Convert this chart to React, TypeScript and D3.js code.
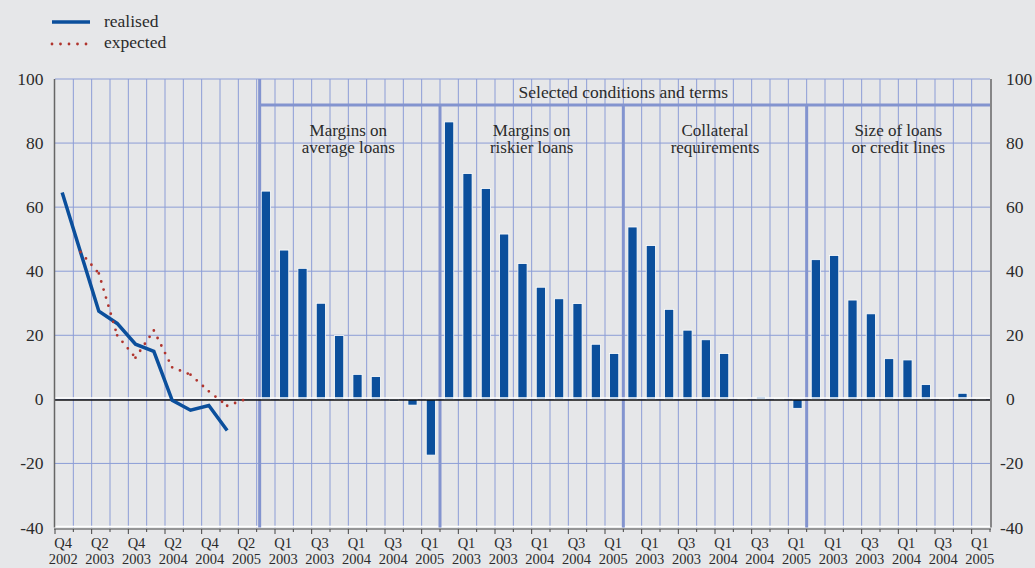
import React, { useEffect, useRef } from 'react';
import * as d3 from 'd3';

// left panel: bank lending survey net percentages, realised vs expected
const lineQuarters = ['Q4 2002', 'Q1 2003', 'Q2 2003', 'Q3 2003', 'Q4 2003', 'Q1 2004', 'Q2 2004', 'Q3 2004', 'Q4 2004', 'Q1 2005', 'Q2 2005'];
const realised = [64.6, 46, 27.5, 23.7, 17.2, 15, -0.3, -3.4, -1.9, -9.7, null];
const expected = [null, 46, 39.3, 20, 13, 21.5, 10, 7.7, 2.5, -2, 0];

// right panels: selected conditions and terms
const barQuarters = ['Q4 2002', 'Q1 2003', 'Q2 2003', 'Q3 2003', 'Q4 2003', 'Q1 2004', 'Q2 2004', 'Q3 2004', 'Q4 2004', 'Q1 2005'];
const marginsAverage = [65, 46.6, 40.9, 30, 19.9, 7.8, 7.1, -0.5, -1.8, -17.4];
const marginsRiskier = [86.6, 70.5, 65.8, 51.6, 42.4, 35, 31.4, 29.9, 17.2, 14.3];
const collateral = [53.8, 48, 28.1, 21.6, 18.6, 14.3, 0.3, 0.8, 0.3, -2.8];
const loanSize = [43.6, 44.9, 31, 26.7, 12.7, 12.3, 4.6, 0.2, 1.9, -0.3];
const panelTitles = [
  ['Margins on', 'average loans'],
  ['Margins on', 'riskier loans'],
  ['Collateral', 'requirements'],
  ['Size of loans', 'or credit lines'],
];
const headerTitle = 'Selected conditions and terms';
const yTicks = [-40, -20, 0, 20, 40, 60, 80, 100];
const legendLabels = ['realised', 'expected'];

const App = () => {
  const svgRef = useRef<SVGSVGElement>(null);

  useEffect(() => {
    const svg = d3.select(svgRef.current);
    svg.selectAll('*').remove();

    const width = 1035;
    const height = 568;
    const left = 55;
    const right = 990;
    const top = 79;
    const bottom = 527.5;
    const headerY = 105;
    const font = '"Liberation Serif", "Times New Roman", serif';
    const blue = '#0b4f9c';
    const red = '#b0342d';
    const grid = '#8c9dd6';
    const sepColor = '#8394cf';
    const ink = '#2b2b2b';

    const barSeries = [marginsAverage, marginsRiskier, collateral, loanSize];
    const slots = [
      ...lineQuarters.map((q) => `line|${q}`),
      ...barSeries.flatMap((_, p) => barQuarters.map((q) => `${p}|${q}`)),
    ];

    const x = d3.scaleBand().domain(slots).range([left, right]).padding(0);
    const bw = x.bandwidth();
    const y = d3.scaleLinear().domain([-40, 100]).range([bottom, top]);

    svg.append('rect').attr('width', width).attr('height', height).attr('fill', '#e6e7e9');

    // grid
    svg
      .append('g')
      .selectAll('line')
      .data(yTicks.filter((d) => d > -40))
      .join('line')
      .attr('x1', left)
      .attr('x2', right)
      .attr('y1', (d) => y(d))
      .attr('y2', (d) => y(d))
      .attr('stroke', grid)
      .attr('stroke-width', 1);

    svg
      .append('g')
      .selectAll('line')
      .data(slots.slice(1))
      .join('line')
      .attr('x1', (d) => x(d))
      .attr('x2', (d) => x(d))
      .attr('y1', top)
      .attr('y2', bottom)
      .attr('stroke', grid)
      .attr('stroke-width', 1);

    // bottom edge of plot
    svg
      .append('line')
      .attr('x1', left)
      .attr('x2', right)
      .attr('y1', bottom - 1)
      .attr('y2', bottom - 1)
      .attr('stroke', '#ffffff')
      .attr('stroke-width', 1.5);

    // panel separators + header rule
    const firstSep = x(`0|${barQuarters[0]}`)!;
    svg
      .append('g')
      .selectAll('line')
      .data(barSeries.map((_, p) => p))
      .join('line')
      .attr('x1', (p) => x(`${p}|${barQuarters[0]}`)! + (p === 0 ? 3 : 0))
      .attr('x2', (p) => x(`${p}|${barQuarters[0]}`)! + (p === 0 ? 3 : 0))
      .attr('y1', (p) => (p === 0 ? top : headerY))
      .attr('y2', bottom)
      .attr('stroke', sepColor)
      .attr('stroke-width', 3);

    svg
      .append('line')
      .attr('x1', firstSep + 3)
      .attr('x2', right)
      .attr('y1', headerY)
      .attr('y2', headerY)
      .attr('stroke', sepColor)
      .attr('stroke-width', 3);

    svg
      .append('text')
      .attr('x', (firstSep + right) / 2)
      .attr('y', 98)
      .attr('text-anchor', 'middle')
      .attr('font-family', font)
      .attr('font-size', 17.5)
      .attr('fill', ink)
      .text(headerTitle);

    // bars
    barSeries.forEach((series, p) => {
      svg
        .append('g')
        .selectAll('rect')
        .data(series)
        .join('rect')
        .attr('x', (d, i) => x(`${p}|${barQuarters[i]}`)! + bw * 0.25)
        .attr('width', bw * 0.5)
        .attr('y', (d) => y(Math.max(0, d)))
        .attr('height', (d) => Math.abs(y(d) - y(0)))
        .attr('fill', blue)
        .attr('stroke', '#ffffff')
        .attr('stroke-width', 0.8);

      const cx = x(`${p}|${barQuarters[0]}`)! + (bw * barQuarters.length) / 2;
      const t = svg
        .append('text')
        .attr('text-anchor', 'middle')
        .attr('font-family', font)
        .attr('font-size', 17)
        .attr('fill', ink);
      panelTitles[p].forEach((line, li) => {
        t.append('tspan').attr('x', cx).attr('y', 135.5 + li * 17.5).text(line);
      });
    });

    // zero line
    svg
      .append('line')
      .attr('x1', left)
      .attr('x2', right)
      .attr('y1', y(0) - 1.4)
      .attr('y2', y(0) - 1.4)
      .attr('stroke', '#ffffff')
      .attr('stroke-width', 1.6);
    svg
      .append('line')
      .attr('x1', left)
      .attr('x2', right)
      .attr('y1', y(0) + 0.6)
      .attr('y2', y(0) + 0.6)
      .attr('stroke', '#111111')
      .attr('stroke-width', 1.4);

    // lines in the left panel
    const cxLine = (i: number) => x(`line|${lineQuarters[i]}`)! + bw / 2 - 2;

    const realisedLine = d3
      .line<number | null>()
      .defined((d) => d !== null)
      .x((d, i) => cxLine(i))
      .y((d) => y(d as number));

    svg
      .append('path')
      .datum(realised)
      .attr('fill', 'none')
      .attr('stroke', blue)
      .attr('stroke-width', 3.5)
      .attr('d', realisedLine);

    // dotted line, dash pattern restarts on each segment
    const expPts = expected
      .map((v, i) => (v === null ? null : ([cxLine(i), y(v)] as [number, number])))
      .filter((p): p is [number, number] => p !== null);
    svg
      .append('g')
      .selectAll('path')
      .data(d3.pairs(expPts))
      .join('path')
      .attr('d', (d) => d3.line()(d))
      .attr('fill', 'none')
      .attr('stroke', red)
      .attr('stroke-width', 2.8)
      .attr('stroke-linecap', 'round')
      .attr('stroke-dasharray', '0 8.4');

    // axes
    [left - 0.5, right + 1].forEach((ax) => {
      svg
        .append('line')
        .attr('x1', ax)
        .attr('x2', ax)
        .attr('y1', top)
        .attr('y2', bottom)
        .attr('stroke', '#666666')
        .attr('stroke-width', 1.5);
    });

    svg
      .append('g')
      .selectAll('text')
      .data(yTicks)
      .join('text')
      .attr('x', 43.5)
      .attr('y', (d) => y(d) + 6)
      .attr('text-anchor', 'end')
      .attr('font-family', font)
      .attr('font-size', 17.5)
      .attr('fill', ink)
      .text((d) => d);

    svg
      .append('g')
      .selectAll('text')
      .data(yTicks)
      .join('text')
      .attr('x', (d) => (d < 0 ? 1000 : 1006))
      .attr('y', (d) => y(d) + 6)
      .attr('text-anchor', 'start')
      .attr('font-family', font)
      .attr('font-size', 17.5)
      .attr('fill', ink)
      .text((d) => d);

    // category axis with bracket ticks
    const axisY = 529;
    svg
      .append('line')
      .attr('x1', left - 1)
      .attr('x2', right + 1)
      .attr('y1', axisY)
      .attr('y2', axisY)
      .attr('stroke', '#444444')
      .attr('stroke-width', 1);

    const labelled = slots.filter((s) => {
      const [panel, q] = s.split('|');
      const i = panel === 'line' ? lineQuarters.indexOf(q) : barQuarters.indexOf(q);
      return panel === 'line' ? i % 2 === 0 : i % 2 === 1;
    });

    svg
      .append('g')
      .selectAll('line')
      .data([...slots, 'end'])
      .join('line')
      .attr('x1', (d) => (d === 'end' ? right : x(d)!))
      .attr('x2', (d) => (d === 'end' ? right : x(d)!))
      .attr('y1', axisY)
      .attr('y2', (d) => (labelled.includes(d) ? axisY + 5 : axisY + 3))
      .attr('stroke', '#444444')
      .attr('stroke-width', 1);

    const lab = svg
      .append('g')
      .selectAll('text')
      .data(labelled)
      .join('text')
      .attr('text-anchor', 'middle')
      .attr('font-family', font)
      .attr('font-size', 14.5)
      .attr('fill', ink);
    lab
      .append('tspan')
      .attr('x', (d) => x(d)! + bw / 2 - 1)
      .attr('y', 548)
      .text((d) => d.split('|')[1].split(' ')[0]);
    lab
      .append('tspan')
      .attr('x', (d) => x(d)! + bw / 2 - 1)
      .attr('y', 564)
      .text((d) => d.split('|')[1].split(' ')[1]);

    // legend
    const legend = svg.append('g');
    legend
      .append('line')
      .attr('x1', 52)
      .attr('x2', 90)
      .attr('y1', 22)
      .attr('y2', 22)
      .attr('stroke', blue)
      .attr('stroke-width', 3.5);
    legend
      .append('line')
      .attr('x1', 52)
      .attr('x2', 90)
      .attr('y1', 44)
      .attr('y2', 44)
      .attr('stroke', red)
      .attr('stroke-width', 2.8)
      .attr('stroke-linecap', 'round')
      .attr('stroke-dasharray', '0 8.5');
    legend
      .selectAll('text')
      .data(legendLabels)
      .join('text')
      .attr('x', 104)
      .attr('y', (d, i) => 27 + i * 21)
      .attr('font-family', font)
      .attr('font-size', 17.5)
      .attr('fill', ink)
      .text((d) => d);
  }, []);

  return (
    <svg
      ref={svgRef}
      width={1035}
      height={568}
      style={{ position: 'absolute', left: 0, top: 0, display: 'block' }}
    />
  );
};

export default App;
